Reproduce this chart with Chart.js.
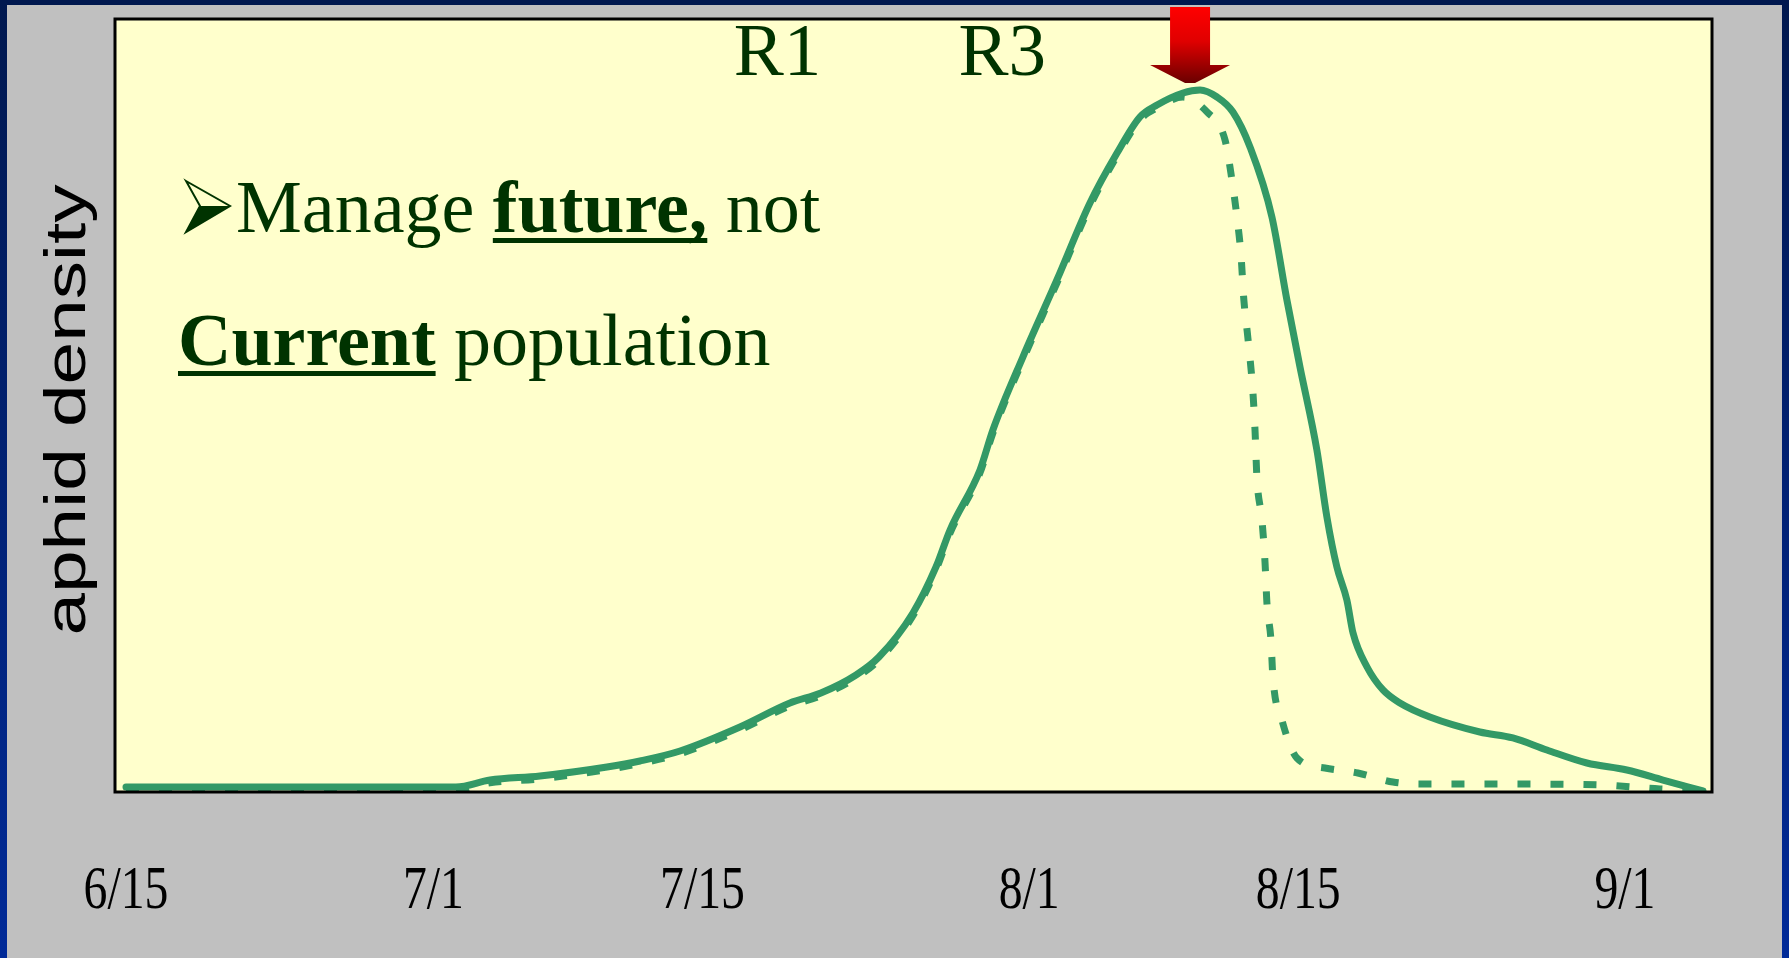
<!DOCTYPE html>
<html>
<head>
<meta charset="utf-8">
<title>aphid density</title>
<script src="https://cdn.jsdelivr.net/npm/chart.js@4/dist/chart.umd.min.js"></script>
<style>
  html, body { margin: 0; padding: 0; }
  body { width: 1789px; height: 958px; background: #c0c0c0; position: relative; overflow: hidden; }
  .bar-top { position: absolute; left: 0; top: 0; width: 1789px; height: 5px; background: #00184f; }
  .bar-left, .bar-right { position: absolute; top: 0; width: 7px; height: 958px; background: linear-gradient(#00184f, #002a98); }
  .bar-left { left: 0; }
  .bar-right { right: 0; }
  #aphidChart { position: absolute; left: 0; top: 0; }
</style>
</head>
<body>
<div class="bar-top"></div>
<div class="bar-left"></div>
<div class="bar-right"></div>
<canvas id="aphidChart" width="1789" height="958"></canvas>

<script>
// x values are days after 6/15
const tickDays = [0, 16, 30, 47, 61, 78];
const tickLabels = ["6/15", "7/1", "7/15", "8/1", "8/15", "9/1"];

// untreated population (solid)
const solidDays = [0, 3.85, 9.05, 17.17, 18.94, 21.54, 25.03, 26.75, 28.83, 31.95, 34.55, 36.16, 37.99, 39.18,
  40.95, 42.15, 42.88, 44.44, 45.11, 46.67, 48.44, 50.16, 51.57, 52.76, 53.65, 55.0, 55.89, 56.77, 57.6, 58.49,
  59.63, 60.41, 61.09, 61.97, 62.49, 63.01, 63.53, 63.85, 64.58, 65.41, 66.29, 67.85, 70.45, 72.17, 73.94,
  76.02, 78.1, 79.98, 82.06];
const solidDensity = [0.65, 0.65, 0.65, 0.65, 1.55, 2.07, 3.23, 4.01, 5.3, 8.41, 11.51, 12.81, 15.14, 17.46,
  23.16, 29.11, 33.89, 41.66, 46.83, 56.27, 66.24, 76.2, 82.66, 87.32, 88.87, 90.43, 90.82, 89.91, 87.97, 83.44,
  74.39, 63.65, 54.98, 44.24, 35.58, 29.11, 24.84, 20.57, 16.17, 13.2, 11.51, 9.7, 7.76, 6.99, 5.43,
  3.75, 2.85, 1.55, 0.13];

// population after treatment (dotted)
const treatedDays = [0, 3.85, 9.05, 17.17, 18.94, 21.54, 25.03, 26.75, 28.83, 31.95, 34.55, 36.16, 37.99, 39.18,
  40.95, 42.15, 42.88, 44.44, 45.11, 46.67, 48.44, 50.16, 51.57, 52.76, 53.65, 55.0, 56.25, 57.19, 57.55, 57.81,
  58.02, 58.17, 58.38, 58.64, 58.75, 58.85, 59.11, 59.27, 59.37, 59.58, 59.68, 60.15, 60.93, 62.39, 64.1,
  65.93, 67.33, 71.5, 76.7, 79.82, 81.38];
const treatedDensity = [0.3, 0.3, 0.3, 0.3, 1.2, 1.7, 2.9, 3.7, 4.95, 8.05, 11.15, 12.45, 14.8, 17.1,
  22.8, 28.75, 33.5, 41.3, 46.45, 55.9, 65.85, 75.8, 82.3, 86.95, 88.5, 89.9, 87.97, 84.35, 79.17, 74.39,
  69.47, 63.65, 58.73, 51.75, 46.83, 40.62, 35.19, 29.75, 24.45, 19.66, 14.88, 9.31, 4.4, 3.1, 2.46,
  1.29, 1.03, 1.03, 0.91, 0.39, 0.26];

// growth stages along the top, and the treatment arrow
const stageDays = [33.9, 45.6];
const stageLabels = ["R1", "R3"];
const arrowDay = 55.37;

const GREEN = "#339966";
const TEXT_GREEN = "#003300";

function toPoints(xs, ys) {
  return xs.map((x, i) => ({ x: x, y: ys[i] }));
}

// 1. plot background + frame
const plotFrame = {
  id: "plotFrame",
  beforeDatasetsDraw(chart) {
    const { ctx, chartArea: a } = chart;
    ctx.save();
    ctx.fillStyle = "#ffffcc";
    ctx.fillRect(a.left, a.top, a.right - a.left, a.bottom - a.top);
    ctx.restore();
  },
  afterDatasetsDraw(chart) {
    const { ctx, chartArea: a } = chart;
    ctx.save();
    ctx.strokeStyle = "#000";
    ctx.lineWidth = 3;
    ctx.strokeRect(a.left, a.top, a.right - a.left, a.bottom - a.top);
    ctx.restore();
  }
};

// 2. labels, arrow and slide text
const slideText = {
  id: "slideText",
  afterDraw(chart) {
    const ctx = chart.ctx;
    const xs = chart.scales.x;

    // x tick labels (narrow serif, like the slide)
    ctx.save();
    ctx.fillStyle = "#000";
    ctx.font = "62px 'Liberation Serif', 'Times New Roman', serif";
    ctx.textAlign = "center";
    ctx.textBaseline = "alphabetic";
    tickDays.forEach((d, i) => {
      ctx.save();
      ctx.translate(xs.getPixelForValue(d), 908);
      ctx.scale(0.77, 1);
      ctx.fillText(tickLabels[i], 0, 0);
      ctx.restore();
    });
    ctx.restore();

    // y axis title
    ctx.save();
    ctx.fillStyle = "#000";
    ctx.font = "58px 'Liberation Sans', Arial, sans-serif";
    ctx.textAlign = "center";
    ctx.textBaseline = "alphabetic";
    ctx.translate(84.5, 410);
    ctx.rotate(-Math.PI / 2);
    ctx.scale(1.32, 1);
    ctx.fillText("aphid density", 0, 0);
    ctx.restore();

    // R1 / R3
    ctx.save();
    ctx.fillStyle = TEXT_GREEN;
    ctx.font = "75px 'Liberation Serif', 'Times New Roman', serif";
    ctx.textAlign = "center";
    stageDays.forEach((d, i) => ctx.fillText(stageLabels[i], xs.getPixelForValue(d), 75));
    ctx.restore();

    // red arrow above the peak
    const cx = xs.getPixelForValue(arrowDay);
    ctx.save();
    const grad = ctx.createLinearGradient(0, 7, 0, 83);
    grad.addColorStop(0, "#ff0000");
    grad.addColorStop(0.45, "#e00000");
    grad.addColorStop(1, "#6a0000");
    ctx.fillStyle = grad;
    ctx.beginPath();
    ctx.moveTo(cx - 20, 7);
    ctx.lineTo(cx + 20, 7);
    ctx.lineTo(cx + 20, 65);
    ctx.lineTo(cx + 40, 65);
    ctx.lineTo(cx + 5, 83);
    ctx.lineTo(cx - 5, 83);
    ctx.lineTo(cx - 40, 65);
    ctx.lineTo(cx - 20, 65);
    ctx.closePath();
    ctx.fill();
    ctx.restore();

    // bullet arrowhead
    ctx.save();
    ctx.fillStyle = TEXT_GREEN;
    ctx.strokeStyle = TEXT_GREEN;
    ctx.lineWidth = 2;
    ctx.beginPath();
    ctx.moveTo(186, 181); ctx.lineTo(230, 206); ctx.lineTo(186, 232); ctx.lineTo(200, 206); ctx.closePath();
    ctx.stroke();
    ctx.beginPath();
    ctx.moveTo(200, 206); ctx.lineTo(230, 206); ctx.lineTo(186, 232); ctx.closePath();
    ctx.fill();
    ctx.restore();

    // two lines of text with bold underlined words
    const reg = "74px 'Liberation Serif', 'Times New Roman', serif";
    const bold = "bold 74px 'Liberation Serif', 'Times New Roman', serif";
    function runs(parts, x, base) {
      ctx.save();
      ctx.fillStyle = TEXT_GREEN;
      ctx.textAlign = "left";
      parts.forEach(p => {
        ctx.font = p.b ? bold : reg;
        ctx.fillText(p.t, x, base);
        const w = ctx.measureText(p.t).width;
        if (p.u) ctx.fillRect(x, base + 6, w, 5);
        x += w;
      });
      ctx.restore();
    }
    runs([{ t: "Manage " }, { t: "future,", b: true, u: true }, { t: " not" }], 236, 232);
    runs([{ t: "Current", b: true, u: true }, { t: " population" }], 178, 365);
  }
};

new Chart(document.getElementById("aphidChart"), {
  type: "line",
  data: {
    datasets: [
      {
        label: "untreated",
        data: toPoints(solidDays, solidDensity),
        borderColor: GREEN,
        borderWidth: 7,
        borderCapStyle: "round",
        borderJoinStyle: "round",
        pointRadius: 0,
        cubicInterpolationMode: "monotone",
        order: 0
      },
      {
        label: "treated",
        data: toPoints(treatedDays, treatedDensity),
        borderColor: GREEN,
        borderWidth: 7,
        borderDash: [13, 20],
        borderCapStyle: "butt",
        pointRadius: 0,
        cubicInterpolationMode: "monotone",
        order: 1
      }
    ]
  },
  options: {
    responsive: false,
    animation: false,
    layout: { padding: { left: 115, top: 19, right: 77, bottom: 166 } },
    plugins: { legend: { display: false }, tooltip: { enabled: false } },
    scales: {
      x: { type: "linear", min: -0.572, max: 82.53, display: false },
      y: { min: 0, max: 100, display: false }
    }
  },
  plugins: [plotFrame, slideText]
});
</script>
</body>
</html>
